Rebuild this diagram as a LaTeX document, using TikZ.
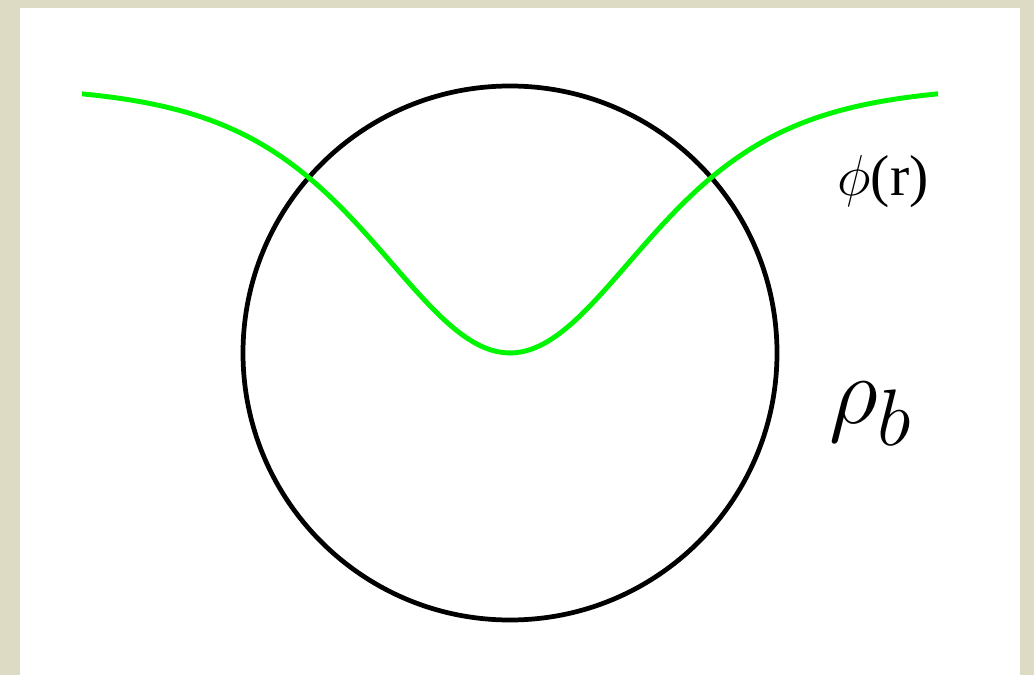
\documentclass[tikz,border=0pt]{standalone}
\usepackage{amsmath,amssymb}
\usepackage{xcolor}
\usepackage{fontspec}
\setmainfont{Liberation Serif}
\usepackage{tikz}
\usetikzlibrary{positioning,calc}
\definecolor{paper}{RGB}{222,219,197}
\definecolor{fieldgreen}{RGB}{0,245,0}
\tikzset{
  ball/.style={draw,circle,line width=2.7pt,inner sep=0pt},
  field/.style={fieldgreen,line width=2.8pt},
  lbl/.style={inner sep=0pt,align=center,font=\Huge},
}

\begin{document}
\begin{tikzpicture}[x=0.02cm, y=-0.02cm]
% frame
\fill[paper] (0,0) rectangle (1034,675);
\fill[white] (20,8) rectangle (1020,675);
\useasboundingbox (0,0) rectangle (1034,675);
% bubble
\node[ball, minimum size=534*0.02cm] (bubble) at (510,353) {};
% field profile
\draw[field] plot[domain=-428:428, samples=120, smooth]
  ({510+\x}, {85+268/(cosh(\x/179)^2)});
% labels
\node[lbl, scale=1.32] (phi) at (883,182) {$\phi$(r)};
\node[lbl, scale=2.2] (rho) at (871,414) {$\rho_b$};
\end{tikzpicture}
\end{document}
